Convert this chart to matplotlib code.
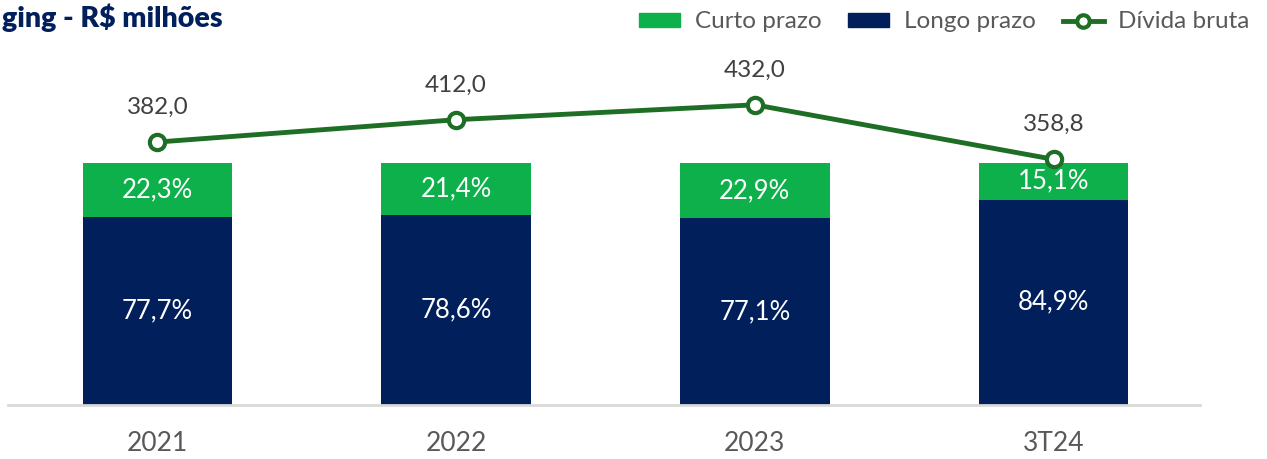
import matplotlib
matplotlib.use("Agg")
import matplotlib.pyplot as plt
from matplotlib.patches import Patch
from matplotlib.lines import Line2D

plt.rcParams['font.family'] = ['Lato', 'DejaVu Sans']

# data
periods = ['2021', '2022', '2023', '3T24']
curto = [22.3, 21.4, 22.9, 15.1]
longo = [77.7, 78.6, 77.1, 84.9]
divida = [382.0, 412.0, 432.0, 358.8]

green = '#0DB04B'
navy = '#001F5B'
line_green = '#1E6E26'
gray = '#595959'

fig = plt.figure(figsize=(12.67, 4.59), dpi=100)
ax = fig.add_axes([8 / 1267, 1 - 405 / 459, 1192 / 1267, 365 / 459])

x = range(len(periods))
ax.bar(x, longo, width=0.5, color=navy)
ax.bar(x, curto, width=0.5, bottom=longo, color=green)

for i in x:
    ax.text(i, longo[i] / 2, f"{longo[i]:.1f}%".replace('.', ','),
            ha='center', va='center', color='white', fontsize=18.5)
    ax.text(i, longo[i] + curto[i] / 2, f"{curto[i]:.1f}%".replace('.', ','),
            ha='center', va='center', color='white', fontsize=18.5)

ax.set_xlim(-0.5, 3.49)
ax.set_ylim(0, 150.8)
ax.set_xticks(list(x))
ax.set_xticklabels(periods, fontsize=19, color=gray)
ax.tick_params(axis='x', length=0, pad=19)
ax.set_yticks([])
for s in ['top', 'right', 'left']:
    ax.spines[s].set_visible(False)
ax.spines['bottom'].set_color('#D9D9D9')
ax.spines['bottom'].set_linewidth(2)

# gross debt line on second axis
ax2 = ax.twinx()
ax2.plot(list(x), divida, color=line_green, lw=3.5, marker='o', ms=11,
         mfc='white', mec=line_green, mew=3, zorder=5)
for i in x:
    ax2.annotate(f"{divida[i]:.1f}".replace('.', ','), (i, divida[i]),
                 xytext=(0, 25), textcoords='offset points', ha='center',
                 va='center', fontsize=17.5, color='#404040')
ax2.set_ylim(29, 519)
ax2.set_yticks([])
for s in ['top', 'right', 'left', 'bottom']:
    ax2.spines[s].set_visible(False)

# title (the source shows only this part of it)
fig.text(223 / 1267, 1 - 18 / 459, 'ging - R$ milhões', ha='right', va='center',
         fontsize=20.5, fontweight='heavy', color=navy)

handles = [Patch(color=green), Patch(color=navy),
           Line2D([], [], color=line_green, lw=3.5, marker='o', ms=9,
                  mfc='white', mec=line_green, mew=3)]
fig.legend(handles, ['Curto prazo', 'Longo prazo', 'Dívida bruta'],
           loc='center right', bbox_to_anchor=(1262 / 1267, 1 - 22 / 459),
           ncol=3, frameon=False, fontsize=17.5, labelcolor=gray,
           handlelength=1.7, handleheight=0.55, handletextpad=0.6,
           columnspacing=1.1, borderpad=0)

fig.savefig('out.png', dpi=100)
